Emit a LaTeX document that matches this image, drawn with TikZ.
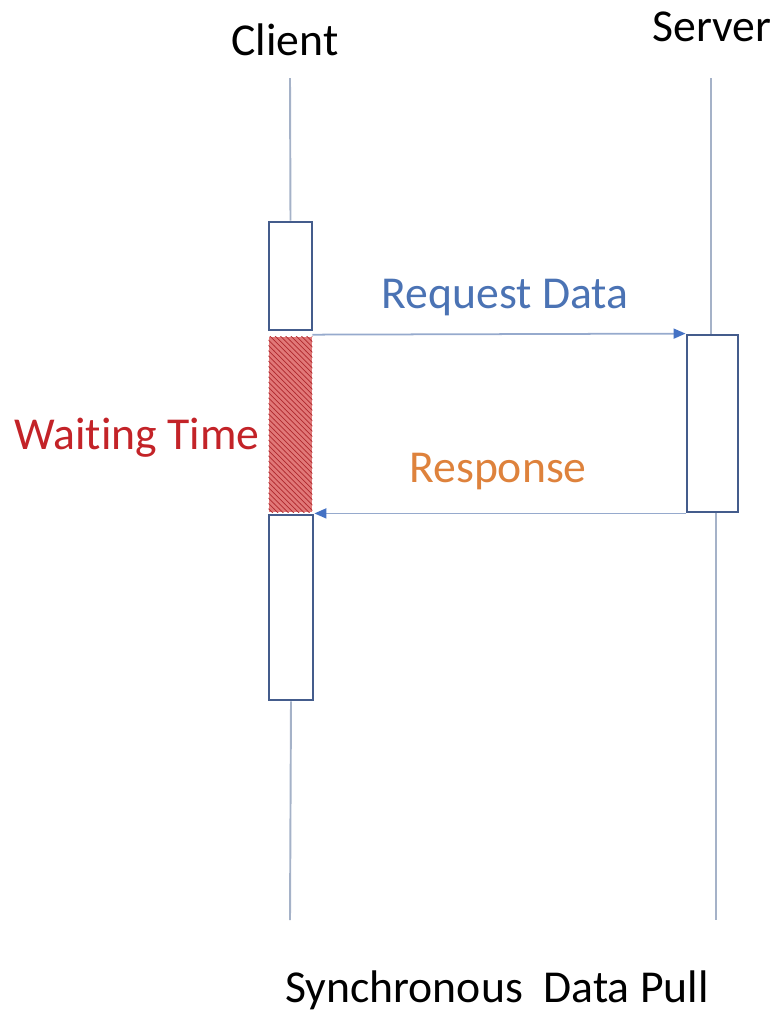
\documentclass[tikz,border=0pt]{standalone}
\usepackage{fontspec}
\setmainfont[Ligatures=NoCommon]{Carlito}
\usetikzlibrary{arrows.meta, positioning, fit, patterns}

\definecolor{lifegray}{RGB}{165,178,200}
\definecolor{boxblue}{RGB}{68,92,140}
\definecolor{msgblue}{RGB}{150,170,205}
\definecolor{tipblue}{RGB}{68,114,196}
\definecolor{reqblue}{RGB}{75,115,180}
\definecolor{resporange}{RGB}{222,130,60}
\definecolor{waitred}{RGB}{195,35,40}
\definecolor{hatchfill}{RGB}{225,120,120}
\definecolor{hatchline}{RGB}{175,40,45}

\tikzset{
    lifeline/.style={draw=lifegray, line width=1.1pt},
    actbox/.style={draw=boxblue, line width=1.6pt, fill=white, inner sep=0pt},
    waitbox/.style={fill=hatchfill, inner sep=0pt},
    msg/.style={draw=msgblue, line width=1pt, -{Triangle[length=0.24cm, width=0.2cm, color=tipblue]}},
    lbl/.style={font=\fontsize{26}{30}\selectfont, inner sep=0pt}
}

\begin{document}
\begin{tikzpicture}[x=0.02cm, y=-0.02cm]
    \useasboundingbox (0,0) rectangle (775,1015);

    % Headers
    \node[lbl] (client) at (285,40) {Client};
    \node[lbl] (server) at (712,27) {Server};

    % Lifeline ends
    \coordinate (ctop) at (290,78);
    \coordinate (cbot) at (290,920);
    \coordinate (stop) at (711,78);
    \coordinate (sbot) at (716,920);

    % Client activations
    \node[actbox, fit={(269,222) (312,330)}] (act1) {};
    \node[waitbox, fit={(269,337) (312,512)}] (wait) {};
    \fill[pattern=north west lines, pattern color=hatchline]
        (wait.north west) rectangle (wait.south east);
    \node[actbox, fit={(269,515) (313,700)}] (act2) {};

    % Server activation
    \node[actbox, fit={(687,335) (738,512)}] (srv) {};

    % Lifelines
    \draw[lifeline] (ctop) -- (act1.north);
    \draw[lifeline] (act2.south) -- (cbot);
    \draw[lifeline] (stop) -- (stop |- srv.north);
    \draw[lifeline] (sbot |- srv.south) -- (sbot);

    % Messages
    \draw[msg] (wait.north east) ++(0,-2) -- (srv.north west);
    \draw[msg] (srv.south west) -- (srv.south west -| act2.east);
    \node[lbl, text=reqblue] (req) at (505,298) {Request Data};
    \node[lbl, text=resporange] (resp) at (498,472) {Response};

    % Waiting label
    \node[lbl, text=waitred] (waitlbl) at (137,438) {Waiting Time};

    % Caption
    \node[lbl] (caption) at (497,990) {Synchronous\ \ Data Pull};
\end{tikzpicture}
\end{document}
